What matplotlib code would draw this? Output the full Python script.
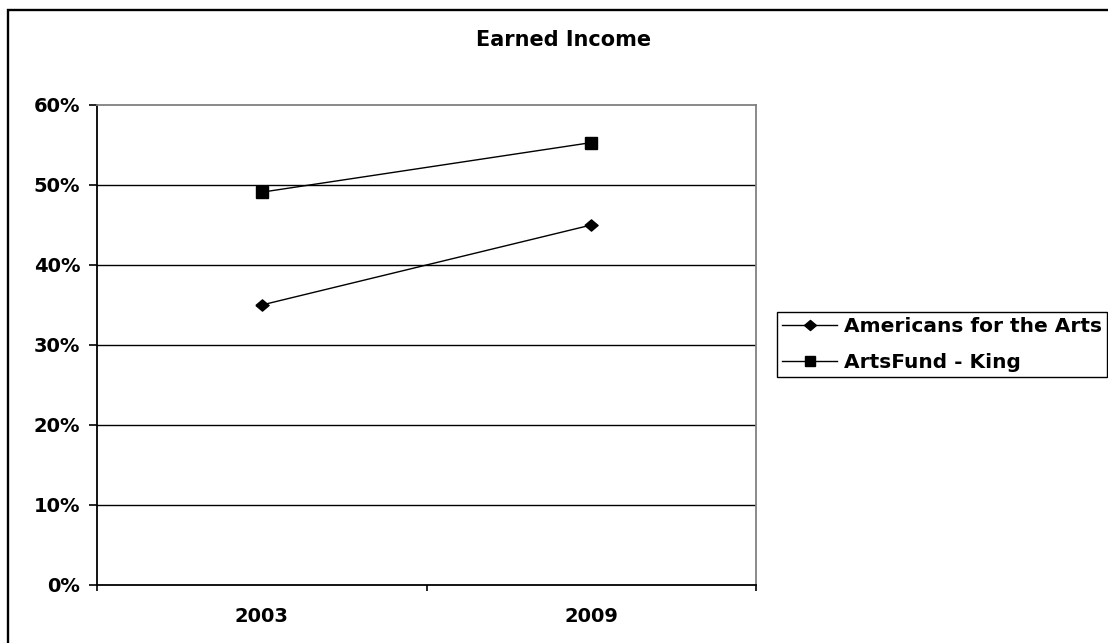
import numpy as np
import matplotlib as mpl
mpl.use('Agg')
import matplotlib.pyplot as plt
from matplotlib.patches import Rectangle
from matplotlib.ticker import FixedLocator, FuncFormatter

years = ["2003", "2009"]
americans = [35.0, 45.0]
artsfund = [49.1, 55.3]
series_names = ["Americans for the Arts", "ArtsFund - King"]
y_ticks = [0, 10, 20, 30, 40, 50, 60]

W, H = 1108, 643
plt.rcParams['font.family'] = ['DejaVu Sans']
plt.rcParams['font.weight'] = 'bold'

fig = plt.figure(figsize=(W / 100, H / 100), dpi=100)
fig.patch.set_facecolor('white')

# chart area border, runs off the right and bottom edges
fig.patches.append(Rectangle((8 / W, -0.2), 1.2, 1.2 - 10 / H,
                             transform=fig.transFigure, fill=False,
                             edgecolor='black', linewidth=1.7, zorder=0))

ax = fig.add_axes([97 / W, 1 - 585 / H, (756 - 97) / W, (585 - 105) / H])

# flattened diamond like the spreadsheet marker
diamond = [(-1, 0), (0, 0.85), (1, 0), (0, -0.85), (-1, 0)]

x = np.arange(len(years))
l1, = ax.plot(x, americans, color='black', lw=1.0, marker=diamond,
              markersize=9.5, label=series_names[0])
l2, = ax.plot(x, artsfund, color='black', lw=1.0, marker='s',
              markersize=8, label=series_names[1])

ax.set_xlim(-0.5, len(years) - 0.5)
ax.set_ylim(0, 60)

# category boundaries get the tick marks, labels sit between them
ax.xaxis.set_major_locator(FixedLocator(np.arange(-0.5, len(years), 1.0)))
ax.xaxis.set_major_formatter(FuncFormatter(lambda v, p: ""))
ax.xaxis.set_minor_locator(FixedLocator(x))
ax.set_xticklabels(years, minor=True)
ax.tick_params(axis='x', which='major', direction='out', length=4.5, width=1.2)
ax.tick_params(axis='x', which='minor', length=0, pad=16, labelsize=14)

ax.set_yticks(y_ticks)
ax.yaxis.set_major_formatter(FuncFormatter(lambda v, p: "{0:.0f}%".format(v)))
ax.tick_params(axis='y', direction='out', length=5.5, width=1.2, pad=6.5, labelsize=14)

for v in y_ticks[1:-1]:
    ax.axhline(v, color='black', lw=1.0, zorder=1)

ax.spines['left'].set_linewidth(1.3)
ax.spines['bottom'].set_linewidth(1.3)
ax.spines['top'].set_color('#808080')
ax.spines['right'].set_color('#808080')
ax.spines['top'].set_linewidth(1.3)
ax.spines['right'].set_linewidth(1.3)

fig.text(564 / W, 1 - 40 / H, "Earned Income", ha='center', va='center',
         fontsize=15, fontweight='bold')

leg = fig.legend(handles=[l1, l2], loc='upper left',
                 bbox_to_anchor=(777 / W, 1 - 312 / H), borderaxespad=0,
                 fontsize=14.5, handlelength=2.7, handletextpad=0.35,
                 labelspacing=0.8, borderpad=0.27, fancybox=False,
                 framealpha=1, edgecolor='black', markerscale=0.9)
leg.get_frame().set_linewidth(1.0)

plt.savefig("out.png", dpi=100)
